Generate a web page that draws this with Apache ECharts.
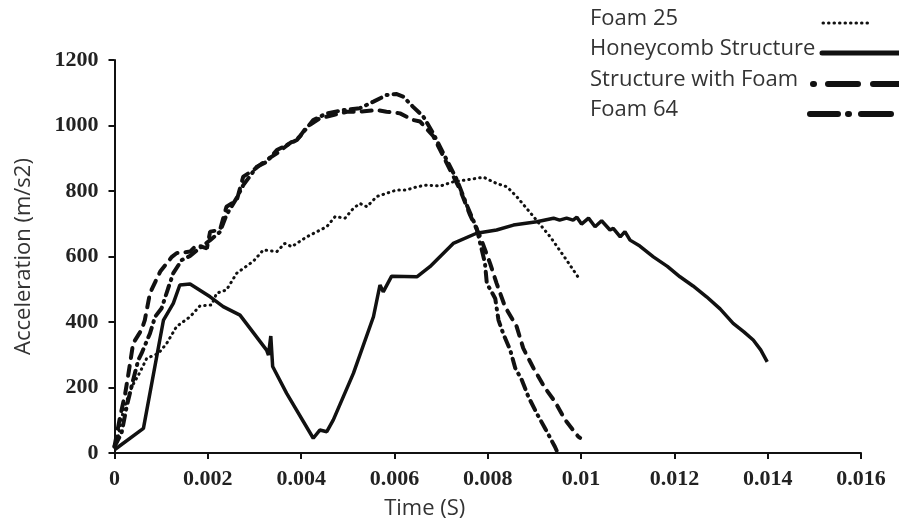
<!DOCTYPE html>
<html>
<head>
<meta charset="utf-8">
<script src="https://cdn.jsdelivr.net/npm/echarts@6/dist/echarts.min.js"></script>
<style>html,body{margin:0;padding:0;background:#fff;}#c{width:899px;height:525px;}</style>
</head>
<body>
<div id="c"></div>
<script>
// ---- data ----
const xTicks = [0, 0.002, 0.004, 0.006, 0.008, 0.01, 0.012, 0.014, 0.016];
const yTicks = [0, 200, 400, 600, 800, 1000, 1200];
const seriesNames = ['Foam 25', 'Honeycomb Structure', 'Structure with Foam', 'Foam 64'];

const foam25T = [0, 0.00005, 0.00019, 0.00037, 0.00055, 0.00069, 0.00094, 0.00112, 0.00133, 0.00162, 0.00183, 0.00208, 0.00219, 0.0024, 0.00262, 0.00298, 0.00319, 0.00348, 0.00365, 0.0038, 0.00412, 0.00455, 0.00473, 0.00494, 0.00512, 0.00526, 0.00541, 0.00562, 0.00583, 0.00605, 0.00626, 0.00648, 0.00669, 0.00698, 0.00726, 0.00755, 0.00791, 0.00819, 0.00841, 0.00862, 0.00898, 0.00934, 0.00969, 0.00998];
const foam25A = [20, 30, 131, 202, 248, 289, 304, 335, 386, 416, 449, 452, 488, 498, 549, 586, 620, 615, 640, 630, 660, 691, 722, 717, 747, 762, 752, 783, 793, 803, 803, 813, 818, 815, 828, 834, 842, 823, 813, 783, 722, 660, 589, 528];

const honeyT = [0, 0.00062, 0.00105, 0.00126, 0.0014, 0.00162, 0.00205, 0.00233, 0.00269, 0.00326, 0.0033, 0.00335, 0.00339, 0.00369, 0.00426, 0.0044, 0.00455, 0.00469, 0.00512, 0.00555, 0.00569, 0.00576, 0.00594, 0.00648, 0.00676, 0.00726, 0.00776, 0.00819, 0.00855, 0.00905, 0.00941, 0.00954, 0.00969, 0.00983, 0.00991, 0.01001, 0.01016, 0.0103, 0.01044, 0.01062, 0.01069, 0.01084, 0.01094, 0.01105, 0.01126, 0.01155, 0.01185, 0.01212, 0.0124, 0.01269, 0.01298, 0.01326, 0.01349, 0.01369, 0.01385, 0.01399];
const honeyA = [10, 75, 406, 457, 513, 516, 477, 447, 421, 314, 299, 357, 264, 182, 45, 70, 65, 101, 243, 416, 513, 492, 540, 538, 569, 640, 671, 681, 696, 706, 717, 711, 717, 711, 720, 699, 717, 691, 709, 681, 686, 660, 676, 650, 632, 599, 570, 538, 510, 477, 440, 396, 370, 345, 315, 278];

const swfT = [0, 0.00012, 0.00023, 0.0003, 0.0004, 0.00058, 0.00065, 0.00076, 0.00098, 0.00123, 0.00133, 0.00162, 0.00176, 0.00198, 0.00205, 0.00226, 0.0024, 0.00262, 0.00276, 0.00298, 0.00326, 0.00348, 0.00376, 0.00397, 0.00412, 0.0044, 0.00469, 0.00498, 0.00526, 0.00562, 0.00583, 0.00612, 0.0064, 0.00655, 0.00683, 0.00712, 0.00741, 0.00762, 0.00784, 0.00805, 0.00819, 0.00837, 0.00862, 0.00876, 0.00898, 0.00923, 0.00944, 0.00966, 0.00994, 0.00998];
const swfA = [20, 111, 182, 243, 335, 376, 406, 488, 554, 599, 610, 615, 635, 625, 676, 681, 752, 772, 844, 864, 895, 915, 946, 966, 996, 1022, 1032, 1042, 1042, 1047, 1042, 1037, 1017, 1012, 968, 885, 803, 727, 660, 579, 518, 447, 386, 320, 259, 198, 157, 101, 50, 46];

const foam64T = [0, 0.00015, 0.00026, 0.0004, 0.00051, 0.00058, 0.00076, 0.00087, 0.00101, 0.00115, 0.00126, 0.00144, 0.00162, 0.00183, 0.00205, 0.00226, 0.0024, 0.00262, 0.00276, 0.00305, 0.00326, 0.00348, 0.00362, 0.00391, 0.00412, 0.00426, 0.00455, 0.0049, 0.00526, 0.00555, 0.00583, 0.00605, 0.00619, 0.0064, 0.00662, 0.00683, 0.00712, 0.00734, 0.00755, 0.00776, 0.00794, 0.00798, 0.00816, 0.00823, 0.00833, 0.00848, 0.00859, 0.00873, 0.00887, 0.00905, 0.00923, 0.00944, 0.00949];
const foam64A = [20, 60, 141, 223, 284, 304, 365, 416, 442, 503, 549, 589, 602, 626, 650, 675, 727, 779, 818, 874, 889, 925, 935, 956, 992, 1017, 1037, 1047, 1053, 1073, 1093, 1096, 1088, 1057, 1027, 976, 895, 834, 757, 687, 580, 518, 472, 406, 365, 315, 259, 223, 172, 121, 75, 19, 3];

const zip = (t, a) => t.map((v, i) => [v, a[i]]);

const chart = echarts.init(document.getElementById('c'), null, {renderer: 'canvas'});
const tickFont = {fontFamily: 'Liberation Serif', fontWeight: 'bold', fontSize: 22, color: '#222'};
const nameFont = {fontFamily: 'Open Sans', fontSize: 22, color: '#333'};
const ink = '#111';

const lineStyles = [
  {color: ink, width: 3, type: [0.5, 5], cap: 'round'},
  {color: ink, width: 3.5, type: 'solid'},
  {color: ink, width: 4, type: [10, 8], cap: 'round'},
  {color: ink, width: 4, type: [10, 6, 1, 6], cap: 'round'}
];

// legend drawn as text + line samples (layout only)
const legendRows = [
  {y: 18, x1: 823, x2: 872, dash: [0.5, 5], w: 3},
  {y: 48, x1: 822, x2: 899, dash: null, w: 5},
  {y: 79, x1: 813, x2: 899, dash: [1, 14, 30, 15, 30, 200], w: 6},
  {y: 109, x1: 810, x2: 892, dash: [28, 10, 1, 12, 30, 200], w: 6}
];
const graphics = [];
seriesNames.forEach((n, i) => {
  const r = legendRows[i];
  graphics.push({type: 'text', x: 590, y: r.y + 1,
    style: {text: n, font: '22px "Open Sans"', fill: '#333', verticalAlign: 'middle', align: 'left'}});
  graphics.push({type: 'line', shape: {x1: r.x1, y1: r.y + 5, x2: r.x2, y2: r.y + 5},
    style: {stroke: ink, lineWidth: r.w, lineDash: r.dash, lineCap: 'round'}});
});

chart.setOption({
  animation: false,
  backgroundColor: '#fff',
  grid: {left: 114.5, right: 38, top: 60, bottom: 72, containLabel: false},
  graphic: graphics,
  xAxis: {
    type: 'value', min: 0, max: 0.016, interval: 0.002,
    name: 'Time (S)', nameLocation: 'middle', nameGap: 45,
    nameTextStyle: Object.assign({padding: [0, 126, 0, 0]}, nameFont),
    axisLine: {lineStyle: {color: ink, width: 2}},
    axisTick: {show: true, length: 6, lineStyle: {color: ink, width: 2}},
    axisLabel: Object.assign({margin: 15, formatter: v => String(+v.toFixed(3))}, tickFont),
    splitLine: {show: false}
  },
  yAxis: {
    type: 'value', min: 0, max: 1200, interval: 200,
    name: 'Acceleration (m/s2)', nameLocation: 'middle', nameGap: 80, nameTextStyle: nameFont,
    axisLine: {show: true, lineStyle: {color: ink, width: 2}},
    axisTick: {show: true, length: 6, lineStyle: {color: ink, width: 2}},
    axisLabel: Object.assign({margin: 16, formatter: v => String(v)}, tickFont),
    splitLine: {show: false}
  },
  series: [
    {name: seriesNames[0], type: 'line', symbol: 'none', data: zip(foam25T, foam25A), lineStyle: lineStyles[0]},
    {name: seriesNames[1], type: 'line', symbol: 'none', data: zip(honeyT, honeyA), lineStyle: lineStyles[1]},
    {name: seriesNames[2], type: 'line', symbol: 'none', data: zip(swfT, swfA), lineStyle: lineStyles[2]},
    {name: seriesNames[3], type: 'line', symbol: 'none', data: zip(foam64T, foam64A), lineStyle: lineStyles[3]}
  ]
});
</script>
</body>
</html>
